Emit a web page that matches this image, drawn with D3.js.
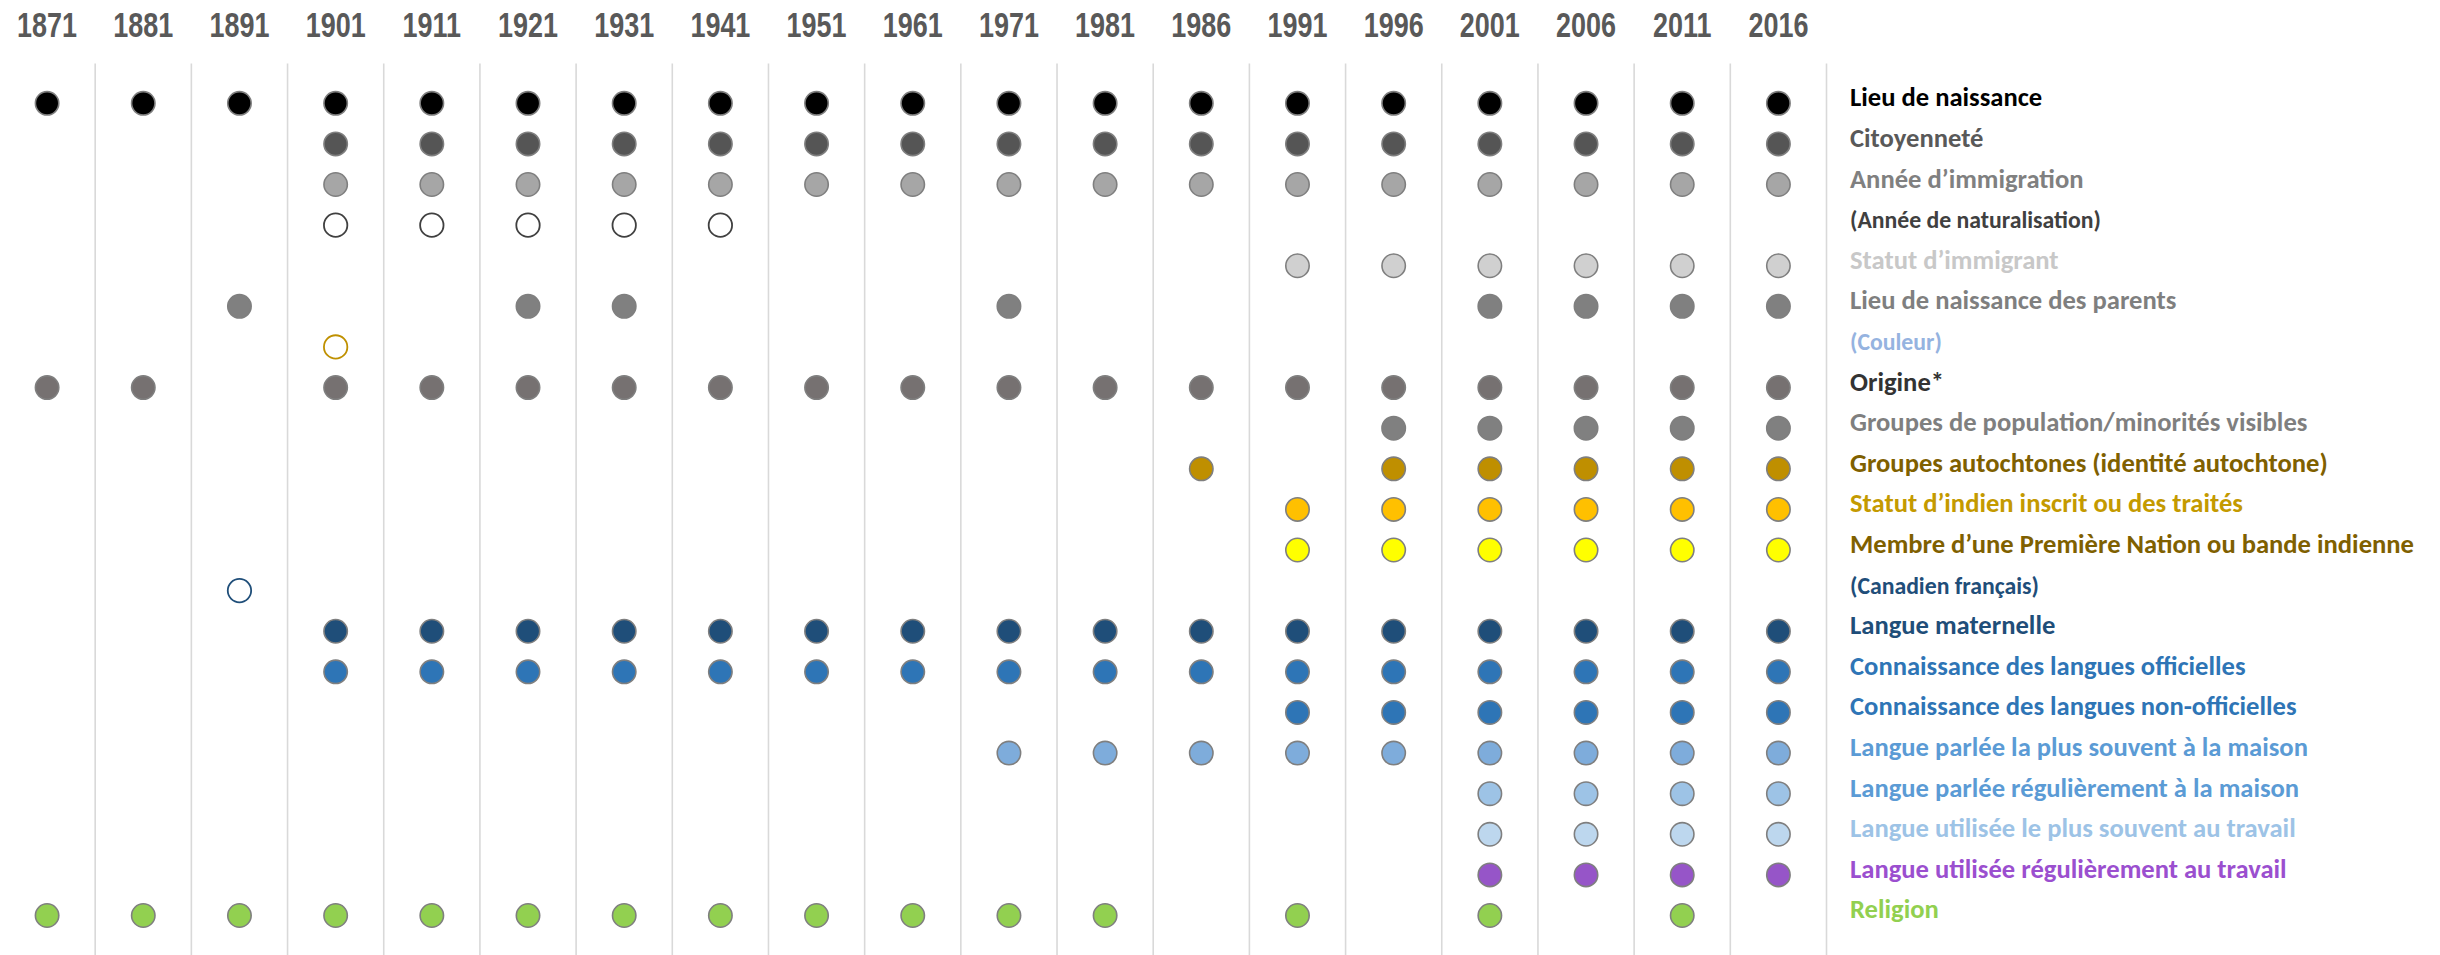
<!DOCTYPE html>
<html>
<head>
<meta charset="utf-8">
<script src="https://cdn.jsdelivr.net/npm/d3@7"></script>
<style>
  body { margin: 0; background: #fff; }
  svg { display: block; }
</style>
</head>
<body>
<div id="svg"></div>
<script>
// census years (columns)
const years = [1871, 1881, 1891, 1901, 1911, 1921, 1931, 1941, 1951, 1961,
               1971, 1981, 1986, 1991, 1996, 2001, 2006, 2011, 2016];

// question rows, top to bottom
const rowLabels = [
  'Lieu de naissance',
  'Citoyenneté',
  'Année d’immigration',
  '(Année de naturalisation)',
  'Statut d’immigrant',
  'Lieu de naissance des parents',
  '(Couleur)',
  'Origine*',
  'Groupes de population/minorités visibles',
  'Groupes autochtones (identité autochtone)',
  'Statut d’indien inscrit ou des traités',
  'Membre d’une Première Nation ou bande indienne',
  '(Canadien français)',
  'Langue maternelle',
  'Connaissance des langues officielles',
  'Connaissance des langues non-officielles',
  'Langue parlée la plus souvent à la maison',
  'Langue parlée régulièrement à la maison',
  'Langue utilisée le plus souvent au travail',
  'Langue utilisée régulièrement au travail',
  'Religion'
];

// which census asked each question
const askedIn = [
  [1871, 1881, 1891, 1901, 1911, 1921, 1931, 1941, 1951, 1961, 1971, 1981, 1986, 1991, 1996, 2001, 2006, 2011, 2016],
  [1901, 1911, 1921, 1931, 1941, 1951, 1961, 1971, 1981, 1986, 1991, 1996, 2001, 2006, 2011, 2016],
  [1901, 1911, 1921, 1931, 1941, 1951, 1961, 1971, 1981, 1986, 1991, 1996, 2001, 2006, 2011, 2016],
  [1901, 1911, 1921, 1931, 1941],
  [1991, 1996, 2001, 2006, 2011, 2016],
  [1891, 1921, 1931, 1971, 2001, 2006, 2011, 2016],
  [1901],
  [1871, 1881, 1901, 1911, 1921, 1931, 1941, 1951, 1961, 1971, 1981, 1986, 1991, 1996, 2001, 2006, 2011, 2016],
  [1996, 2001, 2006, 2011, 2016],
  [1986, 1996, 2001, 2006, 2011, 2016],
  [1991, 1996, 2001, 2006, 2011, 2016],
  [1991, 1996, 2001, 2006, 2011, 2016],
  [1891],
  [1901, 1911, 1921, 1931, 1941, 1951, 1961, 1971, 1981, 1986, 1991, 1996, 2001, 2006, 2011, 2016],
  [1901, 1911, 1921, 1931, 1941, 1951, 1961, 1971, 1981, 1986, 1991, 1996, 2001, 2006, 2011, 2016],
  [1991, 1996, 2001, 2006, 2011, 2016],
  [1971, 1981, 1986, 1991, 1996, 2001, 2006, 2011, 2016],
  [2001, 2006, 2011, 2016],
  [2001, 2006, 2011, 2016],
  [2001, 2006, 2011, 2016],
  [1871, 1881, 1891, 1901, 1911, 1921, 1931, 1941, 1951, 1961, 1971, 1981, 1991, 2001, 2011]
];

// rows drawn as open circles (smaller labels too)
const openRows = ['(Année de naturalisation)', '(Couleur)', '(Canadien français)'];

// styles
const dotFill = ['#000000', '#555555', '#a6a6a6', '#ffffff', '#d0d0d0', '#808080', '#ffffff',
                 '#767171', '#808080', '#bf8f00', '#ffc000', '#ffff00', '#ffffff', '#1f4e79',
                 '#2e75b6', '#2e75b6', '#7eacdb', '#9dc3e6', '#bdd7ee', '#9655c8', '#92d050'];
const dotStroke = ['#7f7f7f', '#7f7f7f', '#7f7f7f', '#404040', '#7f7f7f', '#7f7f7f', '#bf9000',
                   '#7f7f7f', '#7f7f7f', '#7f7f7f', '#7f7f7f', '#7f7f7f', '#1f4e79', '#7f7f7f',
                   '#7f7f7f', '#7f7f7f', '#7f7f7f', '#7f7f7f', '#7f7f7f', '#7f7f7f', '#7f7f7f'];
const labelColor = ['#000000', '#595959', '#808080', '#404040', '#c8c8c8', '#7f7f7f', '#95b3e0',
                    '#333333', '#7f7f7f', '#7f6000', '#c49a00', '#7f6000', '#1f4e79', '#1f4e79',
                    '#2e75b6', '#2e75b6', '#5b9bd5', '#5b9bd5', '#9dc3e6', '#9b4fcf', '#92d050'];

function makeChart(){
  let w = 2440;
  let h = 955;

  let svg = d3.select('#svg').append('svg').attr('width', w).attr('height', h);

  let xScale = d3.scaleBand()
              .domain(years)
              .range([-1, 1826.5]);

  let yScale = d3.scalePoint()
              .domain(rowLabels)
              .range([103.3, 915.5]);

  // column separators
  let edges = years.map(d => xScale(d)).concat([xScale.range()[1]]);
  svg.selectAll('line.sep')
    .data(edges)
    .enter()
      .append('line')
      .attr('class', 'sep')
      .attr('x1', d => d)
      .attr('x2', d => d)
      .attr('y1', 63.5)
      .attr('y2', h)
      .style('stroke', '#d9d9d9')
      .style('stroke-width', 1.6);

  // year headers
  let yearText = svg.selectAll('text.year')
    .data(years)
    .enter()
      .append('text')
      .attr('class', 'year')
      .attr('y', 37)
      .attr('text-anchor', 'middle')
      .style('font-family', '"Liberation Sans Narrow", "Liberation Sans", Arial, sans-serif')
      .style('font-weight', 'bold')
      .style('font-size', '35.5px')
      .style('fill', '#595959')
      .text(d => d);

  // dots
  let cells = [];
  rowLabels.forEach((r, i) => {
    askedIn[i].forEach(y => cells.push({row: r, i: i, year: y}));
  });

  svg.selectAll('circle')
    .data(cells)
    .enter()
      .append('circle')
      .attr('cx', d => xScale(d.year) + xScale.bandwidth() / 2)
      .attr('cy', d => yScale(d.row))
      .attr('r', 11.7)
      .style('fill', d => dotFill[d.i])
      .style('stroke', d => dotStroke[d.i])
      .style('stroke-width', d => openRows.includes(d.row) ? 1.8 : 1.6);

  // row labels
  let labelX = 1850;
  let mainSize = 26;
  let legend = svg.append('g');
  let labels = legend.selectAll('text')
    .data(rowLabels)
    .enter()
      .append('text')
      .attr('x', 0)
      .attr('y', d => yScale(d) + 3)
      .style('font-family', 'Carlito, Lato, "Open Sans", sans-serif')
      .style('font-weight', 'bold')
      .style('font-size', mainSize + 'px')
      .style('fill', (d, i) => labelColor[i])
      .text(d => d);

  function fit(){
    // narrow year digits to Arial Narrow width
    yearText.attr('transform', null);
    let yw = yearText.node().getComputedTextLength();
    let ys = Math.min(1, 60 / yw);
    yearText.attr('transform', d => `translate(${xScale(d) + xScale.bandwidth() / 2},0) scale(${ys},1)`);

    // squeeze labels to the Calibri widths of the original
    labels.style('font-size', mainSize + 'px');
    let longW = labels.filter(d => d === 'Membre d’une Première Nation ou bande indienne').node().getComputedTextLength();
    let smallW = labels.filter(d => d === '(Année de naturalisation)').node().getComputedTextLength();
    let ls = 564 / longW;
    let smallSize = mainSize * (251 / ls) / smallW;
    labels.filter(d => openRows.includes(d)).style('font-size', smallSize + 'px');
    legend.attr('transform', `translate(${labelX},0) scale(${ls},1)`);
  }
  fit();
  if (document.fonts) document.fonts.ready.then(fit);
}

window.onload = function(){
  makeChart();
}
</script>
</body>
</html>
